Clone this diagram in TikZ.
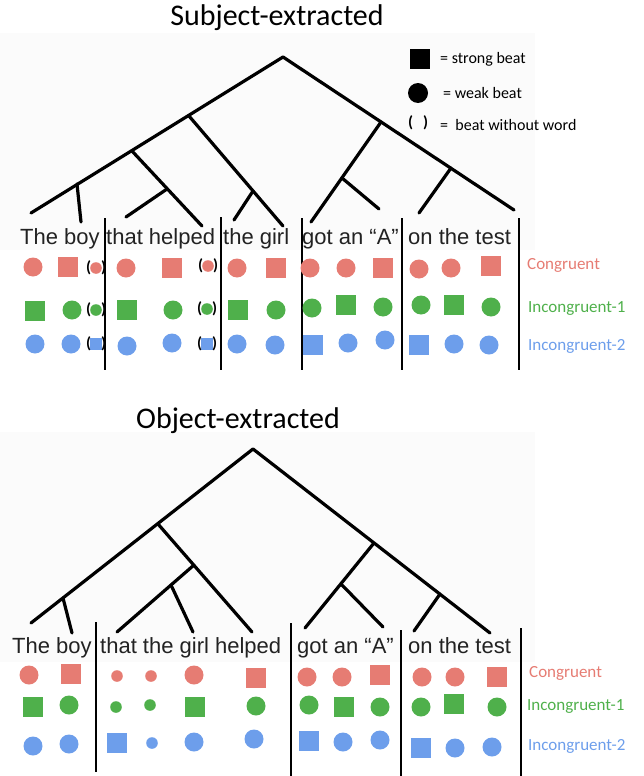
\documentclass[tikz,border=0pt]{standalone}
\usepackage{fontspec}
\setmainfont{Carlito}
\newfontfamily\satzfont{Liberation Sans}

\definecolor{kongrot}{HTML}{E67C73}
\definecolor{inkgruen}{HTML}{4FB04B}
\definecolor{inkblau}{HTML}{6D9EEB}
\definecolor{satzgrau}{HTML}{222222}

% Symbole: Kreis = schwacher Schlag, Quadrat = starker Schlag
\newcommand\Kreis[3]{\fill[#1] (#2,#3) circle (9.5pt);}
\newcommand\kreis[3]{\fill[#1] (#2,#3) circle (5.8pt);}
\newcommand\Quadrat[3]{\fill[#1] (#2-10,#3-10) rectangle (#2+10,#3+10);}
\newcommand\quadrat[3]{\fill[#1] (#2-6,#3-6) rectangle (#2+6,#3+6);}
\newcommand\Klammer[2]{\node[klammer] at (#1-7.5,#2) {(}; \node[klammer] at (#1+7.5,#2) {)};}

\begin{document}
\begin{tikzpicture}[x=1pt, y=-1pt,
  ast/.style={line width=3.2pt, line cap=round},
  trenner/.style={line width=1.3pt},
  klammer/.style={inner sep=0, font=\bfseries\fontsize{16}{16}\selectfont},
  titel/.style={inner sep=0, font=\fontsize{30}{30}\selectfont},
  satz/.style={inner sep=0, anchor=base west, text=satzgrau, font=\satzfont\fontsize{22}{22}\selectfont},
  legende/.style={inner sep=0, anchor=west, font=\fontsize{16}{16}\selectfont},
  bedingung/.style={inner sep=0, anchor=west, font=\fontsize{17}{17}\selectfont}]

\useasboundingbox (0,0) rectangle (644,776);

% leicht grauer Hintergrund der eingefuegten Baeume
\fill[black!1.5] (0,33) rectangle (535,250);
\fill[black!1.5] (0,432) rectangle (535,662);

% Titel
\node[titel, anchor=base] (titelS) at (277,26) {Subject-extracted};
\node[titel, anchor=base] (titelO) at (238,428) {Object-extracted};

% Legende
\fill (409.5,49) rectangle (429.5,69);
\fill (418,93) circle (10pt);
\Klammer{418}{123}
\node[legende] (lgStark) at (440,59) {= strong beat};
\node[legende] (lgSchwach) at (443,93) {= weak beat};
\node[legende] (lgLeer) at (440,125) {= \ beat without word};

% Baum oben (Subjekt)
\coordinate (sW) at (283,57);
\coordinate (sA) at (189,116);
\coordinate (sB) at (132,151);
\coordinate (sC) at (77,184);
\coordinate (sL) at (31,213);
\coordinate (sD) at (253,191);
\coordinate (sE) at (167,189);
\coordinate (sR) at (514,210);
\coordinate (sF) at (381,122);
\coordinate (sG) at (451,168);
\coordinate (sH) at (342,178);

\draw[ast] (sW) -- (sL);
\draw[ast] (sW) -- (sR);
\draw[ast] (sC) -- (81,222);
\draw[ast] (sB) -- (202,226);
\draw[ast] (sE) -- (126,217);
\draw[ast] (sA) -- (283,226);
\draw[ast] (sD) -- (234,220);
\draw[ast] (sF) -- (311,222);
\draw[ast] (sH) -- (379,209);
\draw[ast] (sG) -- (419,213);

% Satz oben
\node[satz] (s1) at (20,244) {The boy};
\node[satz] (s2) at (106,244) {that helped};
\node[satz] (s3) at (223,244) {the girl};
\node[satz] (s4) at (302,244) {got an “A”};
\node[satz] (s5) at (408,244) {on the test};

\draw[trenner] (105,218) -- (105,370);
\draw[trenner] (221,217) -- (221,370);
\draw[trenner] (302,218) -- (302,370);
\draw[trenner] (402,218) -- (402,370);
\draw[trenner] (519,218) -- (519,370);

% Schlaege oben
\Kreis{kongrot}{33}{267} \Quadrat{kongrot}{68}{267}
\kreis{kongrot}{96}{268} \Klammer{96}{268}
\Kreis{kongrot}{126}{268} \Quadrat{kongrot}{172}{268}
\kreis{kongrot}{208}{266} \Klammer{208}{266}
\Kreis{kongrot}{237}{268} \Quadrat{kongrot}{276}{268}
\Kreis{kongrot}{310}{268} \Kreis{kongrot}{346}{268} \Quadrat{kongrot}{383}{268}
\Kreis{kongrot}{419}{269} \Kreis{kongrot}{451}{268} \Quadrat{kongrot}{491}{266}

\Quadrat{inkgruen}{35}{311} \Kreis{inkgruen}{72}{310}
\kreis{inkgruen}{96}{310} \Klammer{96}{310}
\Quadrat{inkgruen}{127}{310} \Kreis{inkgruen}{173}{310}
\kreis{inkgruen}{207}{309} \Klammer{207}{309}
\Quadrat{inkgruen}{238}{310} \Kreis{inkgruen}{276}{310}
\Kreis{inkgruen}{312}{308} \Quadrat{inkgruen}{346}{305} \Kreis{inkgruen}{383}{307}
\Kreis{inkgruen}{421}{305} \Quadrat{inkgruen}{454}{305} \Kreis{inkgruen}{491}{307}

\Kreis{inkblau}{35}{344} \Kreis{inkblau}{71}{344}
\quadrat{inkblau}{96}{344} \Klammer{96}{344}
\Kreis{inkblau}{127}{346} \Kreis{inkblau}{172}{343}
\quadrat{inkblau}{207}{344} \Klammer{207}{344}
\Kreis{inkblau}{237}{344} \Kreis{inkblau}{275}{345}
\Quadrat{inkblau}{313}{345} \Kreis{inkblau}{348}{343} \Kreis{inkblau}{385}{340}
\Quadrat{inkblau}{419}{345} \Kreis{inkblau}{454}{344} \Kreis{inkblau}{489}{345}

\node[bedingung, text=kongrot] (kongS) at (527,265) {Congruent};
\node[bedingung, text=inkgruen] (ink1S) at (528,308) {Incongruent-1};
\node[bedingung, text=inkblau] (ink2S) at (528,346) {Incongruent-2};

% Baum unten (Objekt)
\coordinate (oW) at (253,449);
\coordinate (oA) at (158,524);
\coordinate (oB) at (63,598);
\coordinate (oL) at (31,623);
\coordinate (oC) at (194,565);
\coordinate (oD) at (171,585);
\coordinate (oR) at (490,633);
\coordinate (oE) at (374,543);
\coordinate (oF) at (341,584);
\coordinate (oG) at (440,594);

\draw[ast] (oW) -- (oL);
\draw[ast] (oW) -- (oR);
\draw[ast] (oB) -- (72,633);
\draw[ast] (oA) -- (252,632);
\draw[ast] (oC) -- (117,632);
\draw[ast] (oD) -- (193,632);
\draw[ast] (oE) -- (305,628);
\draw[ast] (oF) -- (383,627);
\draw[ast] (oG) -- (414,631);

% Satz unten
\node[satz] (o1) at (12,653) {The boy};
\node[satz] (o2) at (100,653) {that the girl helped};
\node[satz] (o3) at (297,653) {got an “A”};
\node[satz] (o4) at (408,653) {on the test};

\draw[trenner] (96,622) -- (96,772);
\draw[trenner] (291,623) -- (291,776);
\draw[trenner] (401,630) -- (401,776);
\draw[trenner] (521,628) -- (521,776);

% Schlaege unten
\Kreis{kongrot}{29}{675} \Quadrat{kongrot}{71}{674}
\kreis{kongrot}{117}{676} \kreis{kongrot}{151}{676} \Kreis{kongrot}{194}{675} \Quadrat{kongrot}{256}{678}
\Kreis{kongrot}{307}{677} \Kreis{kongrot}{342}{677} \Quadrat{kongrot}{380}{675}
\Kreis{kongrot}{422}{677} \Kreis{kongrot}{455}{677} \Quadrat{kongrot}{497}{677}

\Quadrat{inkgruen}{33}{707} \Kreis{inkgruen}{69}{705}
\kreis{inkgruen}{116}{707} \kreis{inkgruen}{150}{705} \Quadrat{inkgruen}{195}{707} \Kreis{inkgruen}{256}{706}
\Kreis{inkgruen}{309}{705} \Quadrat{inkgruen}{344}{707} \Kreis{inkgruen}{380}{707}
\Kreis{inkgruen}{421}{707} \Quadrat{inkgruen}{454}{704} \Kreis{inkgruen}{497}{707}

\Kreis{inkblau}{33}{746} \Kreis{inkblau}{69}{744}
\Quadrat{inkblau}{117}{743} \kreis{inkblau}{152}{743} \Kreis{inkblau}{194}{742} \Kreis{inkblau}{254}{739}
\Quadrat{inkblau}{309}{741} \Kreis{inkblau}{343}{742} \Kreis{inkblau}{380}{740}
\Quadrat{inkblau}{421}{748} \Kreis{inkblau}{455}{748} \Kreis{inkblau}{492}{747}

\node[bedingung, text=kongrot] (kongO) at (529,673) {Congruent};
\node[bedingung, text=inkgruen] (ink1O) at (527,706) {Incongruent-1};
\node[bedingung, text=inkblau] (ink2O) at (528,746) {Incongruent-2};

\end{tikzpicture}
\end{document}
